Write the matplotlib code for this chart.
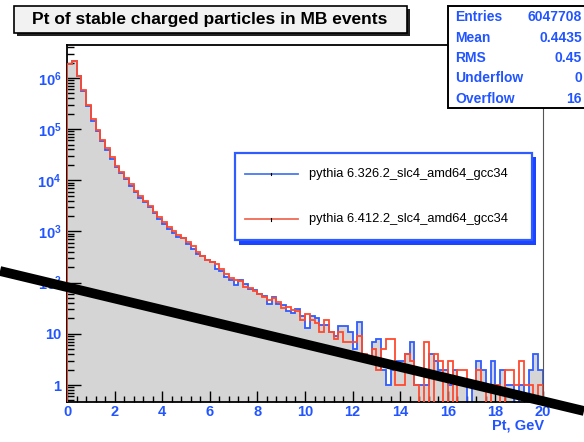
import matplotlib
matplotlib.use("Agg")
import matplotlib.pyplot as plt
import numpy as np
from matplotlib.lines import Line2D
from matplotlib.patches import Rectangle
from matplotlib.ticker import FixedLocator, FuncFormatter, NullFormatter

plt.rcParams["font.family"] = ["Liberation Sans", "DejaVu Sans"]
plt.rcParams["mathtext.fontset"] = "custom"
plt.rcParams["mathtext.rm"] = "Liberation Sans"
plt.rcParams["mathtext.bf"] = "Liberation Sans:bold"

# 100 bins of 0.2 GeV between 0 and 20
edges = np.linspace(0, 20, 101)

pythia_6412 = [
    1900000, 2150000, 1100000, 580000, 296000, 157000, 96000, 61000, 42000, 28000,
    19000, 14500, 11000, 8300, 6200, 4900, 3900, 3100, 2400, 1900,
    1500, 1200, 1000, 840, 740, 620, 530, 390, 338, 280,
    250, 228, 186, 145, 123, 114, 107, 84, 79, 68,
    60, 52, 46, 50, 41, 32, 33, 29, 28, 19,
    24, 19, 16, 11, 19, 11, 8, 11, 7, 7,
    7, 9, 4, 3, 5, 2, 5, 8, 8, 1,
    1, 4, 3, 1, 0, 7, 0, 4, 3, 0,
    3, 0, 2, 2, 1, 1, 2, 1, 0, 1,
    1, 0, 2, 2, 1, 3, 1, 1, 0, 1,
]
pythia_6326 = [
    1850000, 2100000, 1070000, 560000, 285000, 145000, 93000, 59000, 39000, 26000,
    18000, 14000, 10600, 7600, 6000, 4600, 3700, 2950, 2300, 1750,
    1420, 1100, 950, 780, 740, 575, 457, 360, 325, 272,
    250, 186, 172, 127, 114, 92, 114, 95, 75, 72,
    60, 56, 39, 53, 38, 36, 28, 26, 30, 22,
    13, 22, 20, 15, 15, 11, 9, 14, 14, 11,
    5, 17, 3, 3, 7, 8, 2, 1, 2, 3,
    3, 4, 7, 1, 1, 1, 4, 3, 2, 2,
    1, 2, 1, 1, 0, 1, 3, 2, 1, 3,
    1, 2, 1, 1, 0, 1, 0, 2, 4, 2,
]
labels = ["pythia 6.326.2_slc4_amd64_gcc34", "pythia 6.412.2_slc4_amd64_gcc34"]
stat_names = ["Entries", "Mean", "RMS", "Underflow", "Overflow"]
stat_values = ["6047708", "0.4435", "0.45", "0", "16"]
y_major = [1, 10, 1e2, 1e3, 1e4, 1e5, 1e6]

W, H = 584, 442
BLUE = "#2f5cff"
RED = "#ff4a2e"
TXT = "#2255ff"


def fx(x):
    return x / W


def fy(y):
    return 1 - y / H


fig = plt.figure(figsize=(5.84, 4.42), dpi=100)
ax = fig.add_axes([fx(67), fy(402), fx(543 - 67), (402 - 45) / H])

floor = 0.1
blue = np.maximum(np.array(pythia_6326, float), floor)
red = np.maximum(np.array(pythia_6412, float), floor)
ax.stairs(blue, edges, fill=True, color="#d5d5d5", baseline=floor, zorder=1)
ax.stairs(blue, edges, color=BLUE, lw=1.3, baseline=floor, zorder=2)
ax.stairs(red, edges, color=RED, lw=1.3, baseline=floor, zorder=3)

ax.set_yscale("log")
ax.set_xlim(0, 20)
ax.set_ylim(0.466, 4.4e6)

ax.xaxis.set_major_locator(FixedLocator(np.arange(0, 21, 2)))
ax.xaxis.set_minor_locator(FixedLocator(np.arange(0, 20.01, 0.4)))
ax.yaxis.set_major_locator(FixedLocator(y_major))
minors = [m * d for d in [1e-1] + y_major for m in range(2, 10)]
ax.yaxis.set_minor_locator(FixedLocator([v for v in minors if 0.466 < v < 4.4e6]))
ax.yaxis.set_minor_formatter(NullFormatter())


def ylab(v, pos):
    if v < 1.5:
        return "1"
    if v < 15:
        return "10"
    return r"$\mathbf{10^{%d}}$" % round(np.log10(v))


ax.yaxis.set_major_formatter(FuncFormatter(ylab))
ax.tick_params(which="both", direction="in", colors="black", labelcolor=TXT,
               labelsize=10.5, width=1.0)
ax.tick_params(axis="y", which="major", length=10, pad=4)
ax.tick_params(axis="y", which="minor", length=5)
ax.tick_params(axis="x", which="major", length=8, pad=2)
ax.tick_params(axis="x", which="minor", length=4)
for lab in ax.get_xticklabels() + ax.get_yticklabels():
    lab.set_fontweight("bold")
for s in ax.spines.values():
    s.set_linewidth(1.3)
ax.spines["right"].set_linewidth(0.8)
ax.spines["right"].set_color("#555555")

fig.text(fx(544), fy(425), "Pt, GeV", color=TXT, fontsize=10.5, fontweight="bold",
         ha="right", va="center")

# title box with shadow
fig.add_artist(Rectangle((fx(17), fy(36)), fx(393), (36 - 9) / H,
                         facecolor="#222222", edgecolor="none"))
fig.add_artist(Rectangle((fx(14), fy(33)), fx(393), (33 - 6) / H,
                         facecolor="#f2f2f2", edgecolor="black", lw=1.2))
fig.text(fx(210), fy(19.5), "Pt of stable charged particles in MB events",
         fontsize=12.5, fontweight="bold", ha="center", va="center")

# stats box (runs past the right edge of the picture)
fig.add_artist(Rectangle((fx(448), fy(108)), fx(150), (108 - 6) / H,
                         facecolor="white", edgecolor="black", lw=1.4))
for i, (n, v) in enumerate(zip(stat_names, stat_values)):
    yy = 17 + i * 20.5
    fig.text(fx(455), fy(yy), n, color=TXT, fontsize=10, fontweight="bold",
             va="center", ha="left")
    fig.text(fx(582), fy(yy), v, color=TXT, fontsize=10, fontweight="bold",
             va="center", ha="right")

# legend box with shadow
fig.add_artist(Rectangle((fx(239), fy(245)), fx(297), (245 - 157) / H,
                         facecolor="#1a44ff", edgecolor="none"))
fig.add_artist(Rectangle((fx(235), fy(240)), fx(297), (240 - 153) / H,
                         facecolor="white", edgecolor="#2f5cff", lw=1.6))
for yy, c, lab in [(174, "#4a78f0", labels[0]), (219, "#f06a55", labels[1])]:
    fig.add_artist(Line2D([fx(245), fx(298)], [fy(yy), fy(yy)], color=c, lw=1.3))
    fig.add_artist(Line2D([fx(271), fx(271)], [fy(yy - 1.5), fy(yy + 1.5)],
                          color="black", lw=0.8))
    fig.text(fx(309), fy(yy), lab, fontsize=9.3, ha="left", va="center")

# thick black stroke across the picture
fig.add_artist(Line2D([fx(0), fx(584)], [fy(271), fy(411)], color="black", lw=7,
                      solid_capstyle="butt", zorder=10))

fig.savefig("out.png", dpi=100)
